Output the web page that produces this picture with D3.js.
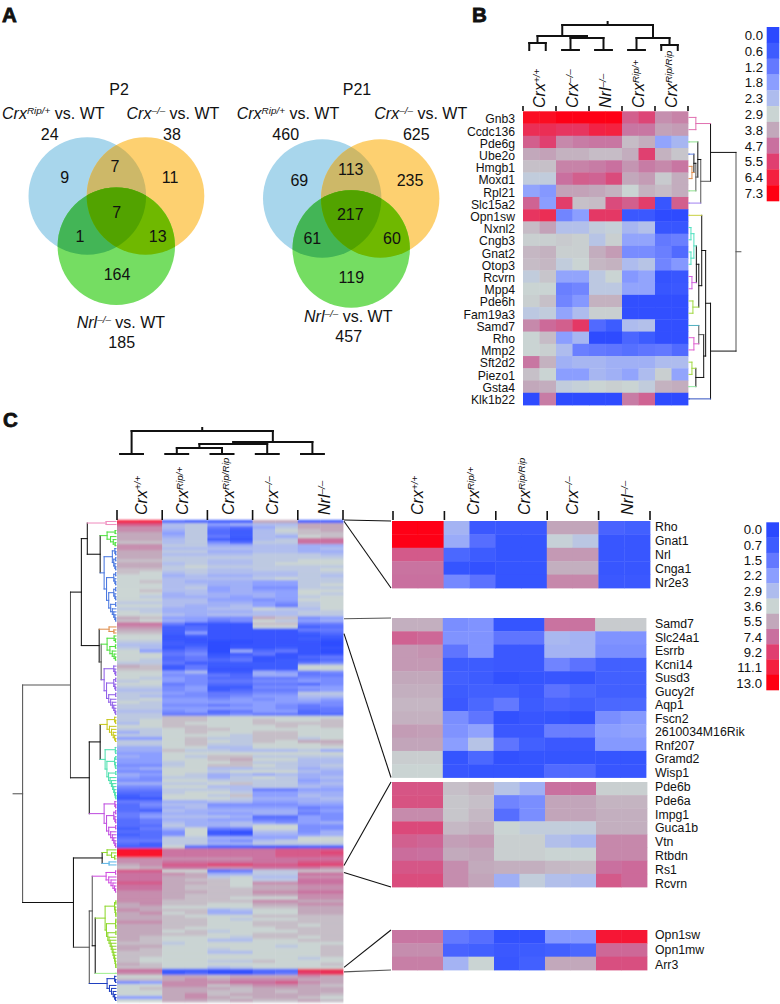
<!DOCTYPE html>
<html><head><meta charset="utf-8">
<script src="https://cdnjs.cloudflare.com/ajax/libs/d3/7.8.5/d3.min.js"></script>
<style>html,body{margin:0;padding:0;background:#fff}svg{display:block}text{font-family:"Liberation Sans",Arial,sans-serif;fill:#111}</style>
</head><body><svg id="c" width="780" height="1004"></svg>
<script>
// ---------- legends
const legendTicksB = [0.0,0.6,1.2,1.8,2.3,2.9,3.8,4.7,5.5,6.4,7.3];
const legendTicksC = [0.0,0.7,1.5,2.2,2.9,3.6,5.5,7.4,9.2,11.1,13.0];
const palette = ["#2b49ff","#3e5cff","#6479ff","#8b9eff","#aebcee","#cad4d3","#c2a8bb","#c9709f","#e03f70","#f4203f","#ff0012"];
// ---------- panel A
const vennP2 = {title:"P2", only:[9,11,164], pair:[7,1,13], all:7, totals:[24,38,185]};
const vennP21 = {title:"P21", only:[69,235,119], pair:[113,61,60], all:217, totals:[460,625,457]};
// ---------- panel B
const genesB = ["Gnb3","Ccdc136","Pde6g","Ube2o","Hmgb1","Moxd1","Rpl21","Slc15a2","Opn1sw","Nxnl2","Cngb3","Gnat2","Otop3","Rcvrn","Mpp4","Pde6h","Fam19a3","Samd7","Rho","Mmp2","Sft2d2","Piezo1","Gsta4","Klk1b22"];
const valuesB = [
[7.0,7.0,7.2,7.2,7.3,7.3,5.0,5.4,4.2,4.4],
[6.0,6.0,5.8,5.8,6.3,6.4,4.6,4.6,3.9,4.0],
[5.0,5.5,4.3,4.5,4.6,4.6,3.4,3.7,1.9,2.2],
[3.8,3.9,3.6,3.6,3.4,3.4,3.7,5.5,3.6,3.2],
[3.3,3.3,4.4,4.4,4.5,4.7,4.1,4.5,4.3,4.6],
[2.7,2.7,4.7,5.0,4.9,5.3,3.8,4.0,3.1,3.7],
[1.9,1.7,3.9,3.9,3.8,3.6,2.9,3.6,3.4,3.7],
[4.9,1.8,5.6,3.3,3.4,5.3,5.0,5.6,0.4,5.0],
[5.8,6.0,1.4,1.8,5.7,5.7,0.5,0.5,0.1,0.1],
[3.4,3.9,2.4,2.4,2.7,2.8,2.2,2.4,0.4,0.4],
[3.0,3.0,3.1,3.0,2.5,3.0,1.9,1.9,1.2,1.3],
[3.5,3.6,3.0,3.0,3.7,4.0,1.5,1.5,1.3,0.9],
[3.4,3.5,2.7,2.9,3.5,3.6,2.3,2.5,1.4,1.7],
[2.7,3.2,1.9,1.9,2.6,2.9,1.7,1.9,0.3,0.4],
[2.9,2.9,1.3,1.4,2.6,2.6,1.9,1.9,0.4,0.5],
[3.0,3.3,1.4,1.7,3.6,3.6,0.2,0.2,0.2,0.2],
[2.6,2.7,1.9,2.3,3.0,3.0,0.2,0.2,0.2,0.2],
[4.3,4.8,5.0,5.7,0.9,0.6,2.3,2.4,0.2,0.2],
[2.9,3.4,1.8,2.2,0.1,0.1,0.8,0.6,0.2,0.2],
[2.9,3.0,2.3,1.3,1.2,1.1,1.0,1.1,1.2,0.9],
[4.6,3.6,2.1,2.2,2.2,2.1,2.1,2.1,2.3,2.3],
[3.3,2.9,1.8,1.8,2.2,2.1,1.9,2.3,3.0,1.9],
[3.8,3.7,2.7,2.8,2.9,3.0,2.9,2.7,3.6,3.7],
[0.1,4.5,0.1,0.1,0.1,0.1,4.5,4.9,0.1,0.1]];
const groupsB = [["Crx","+/+"],["Crx","–/–"],["Nrl","–/–"],["Crx","Rip/+"],["Crx","Rip/Rip"]];
const groupsC = [["Crx","+/+"],["Crx","Rip/+"],["Crx","Rip/Rip"],["Crx","–/–"],["Nrl","–/–"]];
// ---------- panel C, whole heat map: one code per replicate, a=0 … k=3.6 … u=13 on the legend steps
const bigRows = ["ssdcccmmcc","ppijghiimm","nnijedhjmm","nnhjdciklm","mmgjdcijll","mmhjecihkl","mmijcbijoo","llijfdjjoo","nnjjhhiihh","nniiiiiihi",
"mmjjhhiihh","mmiiiijjji","mmjjjjjjjj","lljjiijjkk","mmijiijkkk","mmjkjjjjjj","lljjiijjjk","lkijiiiijj","kkhihhiiji","kkiiiijkjj",
"klihhhggjj","kkiihhggjk","kkijghffjj","kliighggkk","kkhihhhgkj","kjhhhghgjk","kkiiggfgkk","jjiihhgfjk","kkihhigejk","jjhhiikjik",
"kjhhhhiijj","kkihiiiijj","mlggffmlfg","lkhgefkjgh","ooebbbllee","nncdbbkkcd","mmcdbbbbee","llcgbbbbcd","kkbcbbbbbc","kkbbbbbbcb",
"jjcbaabbba","iiccabbbba","jibdabbcbb","kgdeahdeba","kkefbcebbb","kkdecdbbde","kjdedebccd","jjecccccef","mlcecccckk","llcebbcckk",
"kkgicchgef","kkffedhhee","kjgfddeeff","jkgfeeffgf","kkefddeedf","jjfgccffgg","iifgcdeefg","jjgfeeffjj","jiffefggii","jkggfgfghg",
"kjgggggggf","jjffefgfef","jjgggggfee","iifgdeggde","jjeeefeedd","jjllkkkkkk","jkllkklkkl","iklkkkllll","kkllkkklkl","jjkllkkkkk",
"hjklkkllkk","jjkkkjllkk","ggkljjlljk","jjklkjlkmm","jjkljjkkkl","hhkkiikkkk","hhljjiiijh","ggkkkkkkkk","hgkjlljjjj","ggkklmkkii",
"ggjkkljjii","ffjkllkjij","ghkkiijjhi","ffkkjkkkih","hgkjhihihh","gfjjhjkjhi","ffkkjjjjgh","hhjjkljjhi","ffkkiijjih","eejjjieegg",
"ddjkkjgghh","cdkkjlggih","bbkkkjhhhi","eehhiigghh","dfiiffffgg","dehiggggef","dcihhhhhfg","efhhgghhef","egiiihddgf","dehhggeegf",
"deihhigfgh","ddjhhikkff","cehkeekkff","ddfkbaiifh","cdfkcbhhgh","ddjjhhggkk","eejjgfijkk","dcjjhhjjjj","cckdccbbcc","ttoooooppp",
"ttoooooppq","ttoooooppp","nnnnnnoooo","nnoooooopp","mnppqqppqq","lmoonnooon","ppkkdejjll","oonmhhjjoo","oommjkiinn","oomllkjjoo",
"ppmmlknnoo","oomllkmmnn","oomlllmmnn","nnmmllnnoo","nnmlllmmnn","nnmllkkknn","nnllllnnmm","mnllkkmmnn","mmkkkkllmm","nmllhikkmm",
"mnklhhkkmm","mmlkkkllll","mmllkjkkll","nnllkkllll","mmllkkllkl","mmlkkkklll","mmkljkkkll","mmllkkllll","mlkkkjllkl","mlkkiikkll",
"lljkkkkkkk","mmkkkkkjkl","mlkkjkkkkl","llkkiikkkl","llkkkkkkkl","lkkkkkkkjk","lkkkjjlkkk","mlkkkkkkkl","llkkijkkkk","ooccbbddrr",
"nncdbbdeqr","kkmmlmmmnm","llmnmnnnmm","fgnnnoopnm","kknnlmnnml","klmmmlmmmm","kkmmllmlmm","kkmnlmmmml","ggmnmlmmlk","kkmmlmllml"];
// ---------- panel C, insets
const genesInset1 = ["Rho","Gnat1","Nrl","Cnga1","Nr2e3"];
const valuesInset1 = [
[13,13,2.7,0.6,0.6,0.6,5.6,5.6,0.9,0.8],[12.8,12.8,2.5,1.2,0.4,0.4,3.5,3.2,0.5,0.5],[8.2,8.2,1,0.7,0.4,0.4,6,6,0.5,0.5],[7.3,7.3,0.4,0.3,0.4,0.4,5.2,5.2,0.5,0.5],[7.4,7.4,1.8,1.3,0.4,0.4,6.6,6.6,0.6,0.6]];
const genesInset2 = ["Samd7","Slc24a1","Esrrb","Kcni14","Susd3","Gucy2f","Aqp1","Fscn2","2610034M16Rik","Rnf207","Gramd2","Wisp1"];
const valuesInset2 = [
[5.2,5.2,1.9,2,0.4,0.4,7.3,7.3,4,4],[7.9,7.7,2,2,1.4,1.4,2.8,2.7,2,2],[6,6.2,1.4,2,0.6,0.6,2.7,2.7,1.9,1.9],[6,6,0.7,0.7,0.6,0.6,1.7,1.3,0.8,0.8],
[5.5,5.5,0.8,0.7,0.3,0.4,0.5,0.4,0.8,0.8],[5.2,5.2,0.7,0.8,0.8,0.6,1.3,1,0.8,0.8],[4.9,4.9,0.6,1,1.5,0.7,0.9,0.8,1,1],[5.1,5.1,1.9,1.4,0.3,0.5,0.4,0.3,1.9,2.1],
[5.9,5.8,2,2.3,0.6,0.6,1.6,1.6,2.2,2.3],[5.6,5.6,2.2,3.1,1.4,0.8,0.6,0.6,2.1,2.1],[3.9,3.9,0.4,1,0.3,0.4,0.4,0.4,0.4,0.4],[3.6,3.6,0.5,0.4,0.4,0.4,1.1,1.1,0.5,0.5]];
const genesInset3 = ["Pde6b","Pde6a","Impg1","Guca1b","Vtn","Rtbdn","Rs1","Rcvrn"];
const valuesInset3 = [
[8.4,8.4,4.5,5,3.1,2.6,7.4,7.4,3.8,3.8],[8.5,8.5,4.2,4.5,1.7,1.9,5.6,5.6,5,5],[6.5,6.5,4.2,4.8,1.2,1.9,5.6,5.6,5.2,5.2],[8.8,8.8,4.8,5.2,3.6,3.4,3.4,3.4,5.2,5.2],
[8,7.8,5.8,6,3.8,3.8,3,2.8,6.6,6.6],[7.5,7.4,5.4,5.6,3.8,3.8,3.6,3.6,6.6,6.6],[8.3,8.3,6.4,5.4,5.2,5.2,4.8,4.6,7.4,7.6],[8.7,8.7,6.4,5.6,2.6,3.4,3,2.9,8.2,7.6]];
const genesInset4 = ["Opn1sw","Opn1mw","Arr3"];
const valuesInset4 = [[7.2,7.2,1.5,1.2,0.3,0.3,2.1,2.1,11.5,11.5],[6.4,6.4,0.9,0.8,0.6,0.7,0.8,1,7.7,7.7],[6.9,6.9,2.7,3.6,0.5,0.8,5.5,5.5,8.6,8.6]];

// ---------- trees: n(mergeHeight, colour, ...children); a bare number is a leaf index
const n = (h,c,...kids)=>({h,c,kids:kids.map(k=>typeof k==="number"?{h:0,c,leaf:k,kids:null}:k)});
const DK="#111", GR="#555";
const colTreeB = n(25,DK,n(14,DK,n(7,DK,0,1),n(12,DK,n(0,DK,2,3),n(0,DK,4,5))),n(12,DK,n(0,DK,6,7),n(5,DK,8,9)));
const colTreeC = n(23,DK,n(0,DK,0,1),n(12,DK,n(10,DK,n(6,DK,n(0,DK,2,3),n(0,DK,4,5)),n(0,DK,6,7)),n(0,DK,8,9)));
const rowTreeB = n(48,GR,
 n(22,DK,n(7,"#e070b0",0,1),
   n(12,GR,n(9,DK,n(0,"#90e090",2),n(7,GR,n(5,DK,n(0,"#6080e0",3),n(3,"#e09050",4,5)),n(0,"#90e090",6))),n(0,"#a080f0",7))),
 n(22,DK,
   n(17,DK,
     n(13,DK,n(0,"#c8d040",8),n(10,DK,n(7.5,DK,n(5,"#50e0c0",n(2,"#50e0c0",9,10),n(2,"#50e0c0",11,12)),n(3,"#d060e0",13,14)),n(4,"#a0d840",15,16))),
     n(15,DK,n(10,GR,n(0,"#50b0c0",17),n(5,"#e060d0",18,19)),n(7,DK,n(3,"#a0d840",20,21),n(0,"#90e8a0",22)))),
   n(0,"#3050c0",23)));
const bush=(h,c,spec)=>{const depth=s=>Array.isArray(s)?1+d3.max(s,depth):0;const top=depth(spec);
 const make=s=>Array.isArray(s)?{h:h*Math.pow(depth(s)/top,1.7),c,kids:s.map(make)}:{h:0,c,leaf:s,kids:null};return make(spec);};
const rowTreeC = n(94.4,GR,
 n(46,GR,
  n(35,DK,
   n(29,DK,bush(10,"#f090c0",[0,1]),
     n(16,DK,bush(9,"#50e040",[[3,4],[5,[6,[7,8]]]]),
       bush(12,"#4a78e0",[[[9,[10,11]],[[12,13],[14,[15,16]]]],[[[17,18],[19,[20,21]]],[[[22,23],[24,[25,26]]],[[27,28],[29,[30,[31,[32,33]]]]]]]]))),
   n(17,DK,bush(7,"#e09050",[35,[36,37]]),
     n(15,GR,bush(9,"#50e040",[[38,[39,40]],[[41,42],[43,[44,[45,46]]]]]),
       bush(12,"#9060e8",[[48,[49,[50,51]]],[[[52,53],[54,[55,56]]],[[57,58],[59,[60,[61,[62,[63,64]]]]]]]])))),
  n(27,DK,
   n(16,DK,bush(9,"#c8c820",[[65,[66,67]],[68,[69,[70,[71,[72,73]]]]]]),
     bush(11,"#50e0b0",[[75,[76,77]],[[[78,79],[80,[81,82]]],[[83,84],[85,[86,[87,[88,[89,[90,[91,92]]]]]]]]]])),
   bush(12,"#c050e0",[[93,[94,95]],[[[96,97],[98,[99,100]]],[[101,102],[103,[104,[105,[106,[107,108]]]]]]]]))),
 n(43,DK,
  n(14,DK,bush(9,"#90d830",[109,[110,[111,112]]]),bush(7,"#60b8e8",[113,114])),
  n(27,GR,
   n(24,GR,bush(10,"#d050e0",[[116,117],[118,[119,[120,[121,[122,123]]]]]]),
     n(21,DK,bush(11,"#90d830",[[[126,127],[128,[129,[130,131]]]],[[[132,133],[134,135]],[[136,137],[138,[139,[140,[141,[142,[143,[144,[145,[146,[147,148]]]]]]]]]]]]]),n(0,"#a0f090",150))),
   bush(9,"#2040c0",[[151,[152,153]],[154,[155,[156,[157,[158,159]]]]]]))));
// ---------- drawing
const svg=d3.select("#c");
const defs=svg.append("defs");
defs.append("filter").attr("id","soft").attr("x","-2%").attr("y","-2%").attr("width","104%").attr("height","104%")
 .append("feGaussianBlur").attr("stdDeviation",0.6);
defs.append("filter").attr("id","softBig").attr("x","-2%").attr("y","-2%").attr("width","104%").attr("height","104%")
 .append("feGaussianBlur").attr("stdDeviation","0.6 1.1");
const colorB=d3.scaleLinear(legendTicksB,palette), colorC=d3.scaleLinear(legendTicksC,palette);
const cols=d3.range(10);

function heat(g,values,color,x0,x1,y0,y1){
 const x=d3.scaleBand(cols,[x0,x1]), y=d3.scaleBand(d3.range(values.length),[y0,y1]);
 g.selectAll(null).data(values.flatMap((r,i)=>r.map((v,j)=>({i,j,v})))).join("rect")
  .attr("x",d=>x(d.j)).attr("y",d=>y(d.i)).attr("width",x.bandwidth()+0.4).attr("height",y.bandwidth()+0.4)
  .attr("fill",d=>color(d.v));
 return {x,y};
}
function supLabel(g,x,y,base,sup,size,rest,rotate,supSize){
 const t=g.append("text").attr("transform",`translate(${x},${y})`+(rotate?" rotate(-90)":"")).attr("font-size",size);
 t.append("tspan").attr("font-style","italic").text(base);
 t.append("tspan").attr("font-style","italic").attr("font-size",supSize||size*0.62).attr("dy",-size*0.34).text(sup);
 if(rest)t.append("tspan").attr("dy",size*0.34).text(rest);
 return t;
}
function legend(ticks,x0,x1,y0,y1,labelX,b0,b1){
 const g=svg.append("g"), y=d3.scaleBand(d3.range(ticks.length),[y0,y1]), by=d3.scalePoint(d3.range(ticks.length),[b0,b1]);
 g.selectAll("rect").data(ticks).join("rect").attr("x",x0).attr("width",x1-x0).attr("y",(d,i)=>y(i)).attr("height",y.bandwidth()+0.3).attr("fill",(d,i)=>palette[i]);
 g.selectAll("text").data(ticks).join("text").attr("x",labelX).attr("y",(d,i)=>by(i)).attr("text-anchor","end").attr("font-size",13.2).text(d=>d.toFixed(1));
}
function drawTree(g,tree,leafPos,hPos,horizontal,width,rootLen){
 const root=d3.hierarchy(tree,d=>d.kids);
 root.eachAfter(d=>{d.p=d.children?(d.children[0].p+d.children[d.children.length-1].p)/2:leafPos(d.data.leaf);});
 const line=d3.line();
 const pt=(h,p)=>horizontal?[hPos(h),p]:[p,hPos(h)];
 const segs=[];
 root.each(d=>{
  if(d.children)segs.push({c:d.data.c,pts:[pt(d.data.h,d.children[0].p),pt(d.data.h,d.children[d.children.length-1].p)]});
  if(d.parent)segs.push({c:d.data.c,pts:[pt(d.data.h,d.p),pt(d.parent.data.h,d.p)]});
  else segs.push({c:d.data.c,pts:[pt(d.data.h,d.p),pt(d.data.h+rootLen,d.p)]});
 });
 g.selectAll(null).data(segs).join("path").attr("d",d=>line(d.pts)).attr("fill","none").attr("stroke",d=>d.c).attr("stroke-width",width).attr("stroke-linecap","square");
}
function groupHeads(groups,x0,x1,y,tickH,nudge,size,labelY){
 const g=svg.append("g"), gx=d3.scaleBand(d3.range(5),[x0,x1]);
 g.selectAll("line").data(d3.range(6)).join("line").attr("x1",i=>x0+i*gx.step()).attr("x2",i=>x0+i*gx.step()).attr("y1",y-tickH).attr("y2",y).attr("stroke","#111").attr("stroke-width",1.6);
 groups.forEach((d,i)=>supLabel(g,gx(i)+gx.bandwidth()/2+nudge[i],labelY,d[0],d[1],size,null,true));
}

// panel letters
[["A",2,22],["B",472,22],["C",3,427]].forEach(d=>svg.append("text").attr("x",d[1]).attr("y",d[2]).attr("font-size",20.5).attr("font-weight",700).attr("stroke","#111").attr("stroke-width",0.8).text(d[0]));

// ---------- A
const vennColors={b:"#a8d6ec",o:"#fdd070",g:"#75dd62",bo:"#cdb868",bg:"#43b556",og:"#6fb800",bog:"#52a300"};
function venn(id,v,c,cfg){
 const g=svg.append("g");
 const cc={b:c[0],o:c[1],g:c[2]};
 Object.keys(cc).forEach(k=>{defs.append("clipPath").attr("id",id+k).append("circle").attr("cx",cc[k][0]).attr("cy",cc[k][1]).attr("r",cc[k][2]);});
 Object.keys(cc).forEach(k=>g.append("circle").attr("cx",cc[k][0]).attr("cy",cc[k][1]).attr("r",cc[k][2]).attr("fill",vennColors[k]));
 const clip=(k1,k2,col)=>g.append("g").attr("clip-path",`url(#${id+k1})`).append("circle").attr("cx",cc[k2][0]).attr("cy",cc[k2][1]).attr("r",cc[k2][2]).attr("fill",col);
 clip("b","o",vennColors.bo);clip("b","g",vennColors.bg);clip("o","g",vennColors.og);
 g.append("g").attr("clip-path",`url(#${id}b)`).append("g").attr("clip-path",`url(#${id}o)`).append("circle").attr("cx",cc.g[0]).attr("cy",cc.g[1]).attr("r",cc.g[2]).attr("fill",vennColors.bog);
 const t=(x,y,s)=>g.append("text").attr("x",x).attr("y",y).attr("text-anchor","middle").attr("font-size",16).text(s);
 t(cfg.title[0],cfg.title[1],v.title);
 v.only.forEach((d,i)=>t(cfg.only[i][0],cfg.only[i][1],d));
 v.pair.forEach((d,i)=>t(cfg.pair[i][0],cfg.pair[i][1],d));
 t(cfg.all[0],cfg.all[1],v.all);
 v.totals.forEach((d,i)=>t(cfg.tot[i][0],cfg.tot[i][1],d));
 supLabel(g,cfg.lab[0][0],cfg.lab[0][1],"Crx","Rip/+",16," vs. WT");
 supLabel(g,cfg.lab[1][0],cfg.lab[1][1],"Crx","–/–",16," vs. WT");
 supLabel(g,cfg.lab[2][0],cfg.lab[2][1],"Nrl","–/–",16," vs. WT");
}
venn("p2",vennP2,[[87.3,196,58.8],[145.5,196,58.8],[116.3,246.3,58.7]],
 {title:[119,95],only:[[64.7,183],[170,183],[117,280]],pair:[[115,172],[80,241.7],[157.7,241.7]],all:[116.7,218],tot:[[49.7,139.7],[172,139.7],[121.7,348]],lab:[[2,119],[126.5,119],[76.7,328.3]]});
venn("p21",vennP21,[[322.2,198.5,59.2],[380.2,198.5,59.2],[351.2,249,58.7]],
 {title:[357,95],only:[[299.3,185.7],[410,185.7],[351.3,282.7]],pair:[[350.7,175.3],[312.3,244.3],[392,244.3]],all:[350.3,220],tot:[[285.7,139.7],[416.3,139.7],[348.7,342.3]],lab:[[236.7,119],[374.3,119],[304,322]]});

// ---------- B
const hB=svg.append("g").attr("filter","url(#soft)");
const sB=heat(hB,valuesB,colorB,523,688,111.3,405);
const labB=d3.scalePoint(d3.range(genesB.length),[123.3,404]);
svg.append("g").selectAll("text").data(genesB).join("text").attr("x",515).attr("y",(d,i)=>labB(i)).attr("text-anchor","end").attr("font-size",12.2).text(d=>d);
groupHeads(groupsB,523,688,111,5,[5.5,5.5,5.5,5.5,5.5],16,108);
drawTree(svg.append("g"),colTreeB,i=>sB.x(i)+sB.x.bandwidth()/2-2,d3.scaleLinear([0,25],[50,25]),false,2,3);
drawTree(svg.append("g"),rowTreeB,i=>sB.y(i)+sB.y.bandwidth()/2,d3.scaleLinear([0,48],[689,736]),true,1,5);
legend(legendTicksB,766.7,779.3,27,201,763,40,198);

// ---------- C
const bigValues=bigRows.map(r=>Array.from(r,ch=>d3.scaleLinear(d3.range(11),legendTicksC)((ch.charCodeAt(0)-97)/2)));
const hC=svg.append("g").attr("filter","url(#softBig)");
const sC=heat(hC,bigValues,colorC,117,343,520,1002);
groupHeads(groupsC,117,343,520,10,[7,3.5,4,2.5,10],16,515);
drawTree(svg.append("g"),colTreeC,i=>sC.x(i)+sC.x.bandwidth()/2-8,d3.scaleLinear([0,23],[454,431]),false,2,3);
drawTree(svg.append("g"),rowTreeC,i=>sC.y(i)+sC.y.bandwidth()/2,d3.scaleLinear([0,94.4],[116,22.6]),true,1.05,9.6);

const insets=[
 {g:genesInset1,v:valuesInset1,x1:650,y0:521,y1:588,l0:530.7,l1:587},
 {g:genesInset2,v:valuesInset2,x1:646,y0:618,y1:777.5,l0:628.3,l1:776.7},
 {g:genesInset3,v:valuesInset3,x1:647,y0:782,y1:887,l0:790.7,l1:888},
 {g:genesInset4,v:valuesInset4,x1:647,y0:930,y1:970,l0:939,l1:969}];
insets.forEach(s=>{
 const hg=svg.append("g").attr("filter","url(#soft)");
 heat(hg,s.v,colorC,392,s.x1,s.y0,s.y1);
 const ly=d3.scalePoint(d3.range(s.g.length),[s.l0,s.l1]);
 svg.append("g").selectAll("text").data(s.g).join("text").attr("x",655).attr("y",(d,i)=>ly(i)).attr("font-size",12.3).text(d=>d);
});
groupHeads(groupsC,393,650,520,9,[4.6,9,8.7,5,9],16,515);
// connectors: big-map row edge → inset index and inset edge (0 top, 1 bottom)
const connectors=[[0,0,0,"#111"],[0.4,0,1,"#111"],[32.8,1,0,"#555"],[37.7,1,1,"#111"],[114.7,2,0,"#111"],[117,2,1,"#111"],[148.5,3,0,"#111"],[150,3,1,"#555"]];
const bigY=d3.scaleLinear([0,bigRows.length],[520,1002]);
svg.append("g").selectAll("path").data(connectors).join("path").attr("fill","none").attr("stroke",d=>d[3]).attr("stroke-width",1.1)
 .attr("d",d=>{const s=insets[d[1]];const e=d[2]?s.y1:s.y0;return d3.line()([[344,bigY(d[0])],[391,e]]);});
legend(legendTicksC,766.3,779,522.3,690,762,534.3,687.7);
</script></body></html>
